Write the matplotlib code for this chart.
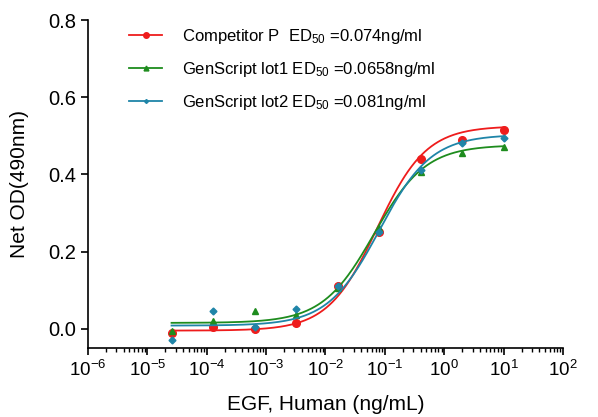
import numpy as np
import matplotlib
matplotlib.use('Agg')
import matplotlib.pyplot as plt
import matplotlib.ticker as ticker

plt.rcParams['font.family'] = ['Liberation Sans', 'DejaVu Sans']
plt.rcParams['mathtext.default'] = 'regular'

# 5-fold dilution series (ng/mL)
conc = [2.56e-5, 1.28e-4, 6.4e-4, 3.2e-3, 0.016, 0.08, 0.4, 2.0, 10.0]

od_comp = [-0.010, 0.005, 0.000, 0.015, 0.110, 0.250, 0.440, 0.490, 0.515]
od_lot1 = [-0.005, 0.020, 0.045, 0.035, 0.105, 0.260, 0.405, 0.455, 0.470]
od_lot2 = [-0.030, 0.045, 0.005, 0.050, 0.110, 0.250, 0.410, 0.480, 0.495]

# 4PL fit parameters: bottom, top, ED50, hill
fit_comp = [-0.005, 0.525, 0.074, 1.05]
fit_lot1 = [0.015, 0.476, 0.0658, 1.0]
fit_lot2 = [0.008, 0.503, 0.081, 1.0]

labels = ['Competitor P  ED$_{50}$ =0.074ng/ml',
          'GenScript lot1 ED$_{50}$ =0.0658ng/ml',
          'GenScript lot2 ED$_{50}$ =0.081ng/ml']
colors = ['#ee1c1c', '#1e8c1e', '#1f85a8']
markers = ['o', '^', 'D']
msizes = [5.5, 5, 3.5]


def four_pl(x, p):
    bottom, top, ec50, hill = p
    return bottom + (top - bottom) / (1 + (ec50 / x) ** hill)


fig = plt.figure(figsize=(5.98, 4.17), dpi=100)
ax = fig.add_axes([0.147, 0.1655, 0.7945, 0.7865])

xs = np.logspace(np.log10(conc[0]), np.log10(conc[-1]), 300)
for od, fit, lab, c, m, ms in zip([od_comp, od_lot1, od_lot2],
                                   [fit_comp, fit_lot1, fit_lot2],
                                   labels, colors, markers, msizes):
    ax.plot(conc, od, linestyle='none', marker=m, color=c, markersize=ms)
    ax.plot(xs, four_pl(xs, fit), color=c, lw=1.3)
    # legend proxy
    ax.plot([], [], color=c, lw=1.3, marker=m, markersize=ms - 1.5, label=lab)

ax.set_xscale('log')
ax.set_xlim(1e-6, 1e2)
ax.set_ylim(-0.05, 0.8)
ax.set_yticks([0.0, 0.2, 0.4, 0.6, 0.8])
ax.yaxis.set_major_formatter(ticker.FormatStrFormatter('%.1f'))
ax.xaxis.set_major_locator(ticker.LogLocator(base=10, numticks=20))
ax.xaxis.set_minor_locator(ticker.LogLocator(base=10, subs=np.arange(2, 10), numticks=20))
ax.xaxis.set_minor_formatter(ticker.NullFormatter())

for s in ['top', 'right']:
    ax.spines[s].set_visible(False)
for s in ['left', 'bottom']:
    ax.spines[s].set_linewidth(1.2)
ax.tick_params(axis='y', which='major', labelsize=14.5, length=5, width=1.2)
ax.tick_params(axis='x', which='major', labelsize=13.5, length=5, width=1.2)
ax.tick_params(axis='x', which='minor', length=3, width=1)

ax.set_xlabel('EGF, Human (ng/mL)', fontsize=15, labelpad=11)
ax.set_ylabel('Net OD(490nm)', fontsize=15, labelpad=14)

ax.legend(loc='upper left', bbox_to_anchor=(0.055, 1.025), frameon=False,
          fontsize=12, handlelength=2.0, labelspacing=0.85, handletextpad=1.2)

fig.savefig('out.png', dpi=100)
